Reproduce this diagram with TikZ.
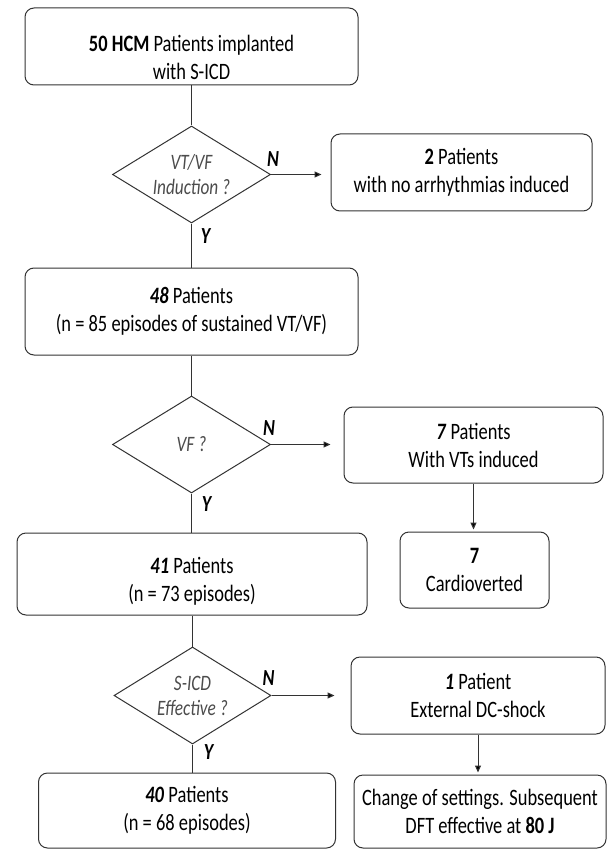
\documentclass[tikz,border=0pt]{standalone}
\usepackage{fontspec}
\setmainfont{Carlito}[FakeStretch=0.785]
\usetikzlibrary{arrows.meta,shapes.geometric,positioning}

\begin{document}
\begin{tikzpicture}[x=1pt,y=-1pt,>={Triangle[length=7pt,width=6pt]},
    box/.style={draw=black!80,line width=1pt,rounded corners=9pt,align=center,
        inner sep=0pt,font=\fontsize{23.5}{28}\selectfont,text=black},
    test/.style={diamond,draw=black!80,line width=1pt,shape aspect=1.63,inner sep=0pt,
        align=center,font=\fontsize{22}{25}\selectfont\itshape,text=black!70},
    yn/.style={font=\fontsize{23}{23}\selectfont\bfseries\itshape},
    line/.style={draw=black!80,line width=1pt}]

            \path[fill=white] (0,0) rectangle (612,850);
            \useasboundingbox (0,0) rectangle (612,850);

            \node[box,minimum width=333pt,minimum height=77pt] (b1) at (191.5,46.5)
                {\rule{0pt}{38pt}\textbf{50 HCM} Patients implanted\\with S-ICD};

            \node[test,minimum width=158pt,minimum height=97pt] (d1) at (191.5,174.5)
                {VT/VF\\Induction ?};

            \node[box,minimum width=261pt,minimum height=77pt] (b2) at (461.5,172.5)
                {\textbf{2} Patients\\with no arrhythmias induced};

            \node[box,minimum width=333pt,minimum height=87pt] (b3) at (191.5,311.5)
                {\textbf{\textit{48}} Patients\\(n = 85 episodes of sustained VT/VF)};

            \node[test,minimum width=158pt,minimum height=97pt] (d2) at (191.5,444.5)
                {VF ?};

            \node[box,minimum width=259pt,minimum height=76pt] (b4) at (473.5,445)
                {\textbf{\textit{7}} Patients\\With VTs induced};

            \node[box,minimum width=350pt,minimum height=82pt] (b5) at (192,574)
                {\rule{0pt}{31pt}\textbf{\textit{41}} Patients\\(n = 73 episodes)};

            \node[box,minimum width=149pt,minimum height=76pt] (b6) at (474.5,570)
                {\textbf{7}\\Cardioverted};

            \node[test,minimum width=157pt,minimum height=97pt] (d3) at (192.5,695.5)
                {S-ICD\\Effective ?};

            \node[box,minimum width=254pt,minimum height=77pt] (b7) at (478,695.5)
                {\textbf{\textit{1}} Patient\\External DC-shock};

            \node[box,minimum width=297pt,minimum height=75pt] (b8) at (187,810.5)
                {\textbf{\textit{40}} Patients\\(n = 68 episodes)};

            \node[box,minimum width=252pt,minimum height=73pt] (b9) at (480,811.5)
                {Change of settings. Subsequent\\DFT effective at \textbf{80 J}};

            \node[yn] (n1) at ([xshift=2pt,yshift=15pt]d1.east) {N};
            \node[yn] (y1) at ([xshift=14pt,yshift=-13pt]d1.south) {Y};
            \node[yn] (n2) at ([xshift=-2pt,yshift=16pt]d2.east) {N};
            \node[yn] (y2) at ([xshift=15pt,yshift=-11pt]d2.south) {Y};
            \node[yn] (n3) at ([xshift=-3pt,yshift=17pt]d3.east) {N};
            \node[yn] (y3) at ([xshift=16pt,yshift=-8pt]d3.south) {Y};

            \path[line] (b1) edge (d1)
                        (d1) edge (b3)
                        (b3) edge (d2)
                        (d2.south) edge (d2.south |- b5.north)
                        (b5.south -| d3.north) edge (d3.north)
                        (d3.south) edge (d3.south |- b8.north);

            \path[line] (d1.east) edge[->,shorten >=9pt] (d1.east -| b2.west)
                        (d2.east) edge[->,shorten >=13pt] (d2.east -| b4.west)
                        (d3.east) edge[->,shorten >=16pt] (d3.east -| b7.west)
                        (b4.south) edge[->,shorten >=2pt] (b4.south |- b6.north)
                        (b7.south) edge[->,shorten >=2pt] (b7.south |- b9.north);

        \end{tikzpicture}
\end{document}
